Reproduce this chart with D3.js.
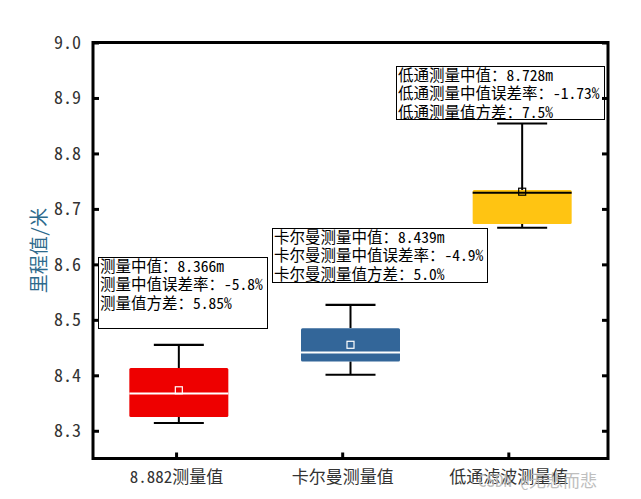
<!DOCTYPE html>
<html>
<head>
<meta charset="utf-8">
<script src="https://cdn.jsdelivr.net/npm/d3@7"></script>
<style>
  body { margin: 0; background: #fff; }
  text { font-family: "Noto Sans Mono CJK SC", "Noto Sans CJK SC", sans-serif; }
</style>
</head>
<body>
<div id="chart"></div>
<script>
const categories = ["8.882测量值", "卡尔曼测量值", "低通滤波测量值"];
const q1 = [8.325, 8.425, 8.673];
const q3 = [8.413, 8.485, 8.734];
const medians = [8.367, 8.441, 8.729];
const means = [8.373, 8.455, 8.731];
const whiskerLow = [8.314, 8.401, 8.666];
const whiskerHigh = [8.455, 8.527, 8.854];
const yTicks = [8.3, 8.4, 8.5, 8.6, 8.7, 8.8, 8.9, 9.0];
const notes = [
  ["测量中值：8.366m", "测量中值误差率：-5.8%", "测量值方差：5.85%"],
  ["卡尔曼测量中值：8.439m", "卡尔曼测量中值误差率：-4.9%", "卡尔曼测量值方差：5.0%"],
  ["低通测量中值：8.728m", "低通测量中值误差率：-1.73%", "低通测量值方差：7.5%"]
];

const boxColors = ["#ee0000", "#336699", "#ffc412"];
const medianColors = ["#ffffff", "#ffffff", "#000000"];
// note frames in px (left, top, width, height)
const noteFrames = [[98, 257, 169, 71], [272, 228, 215, 54], [396, 66, 208, 53]];

const width = 641, height = 499;
const plotLeft = 93, plotRight = 608, plotTop = 42.5, plotBottom = 458.5;

const svg = d3.select("#chart").append("svg")
  .attr("width", width)
  .attr("height", height);

const y = d3.scaleLinear().domain([8.25, 9.0]).range([plotBottom, plotTop]);
// boxes and tick marks don't line up in the original, so two scales
const xBox = d3.scaleLinear().domain([0.5, 3.5]).range([plotLeft, plotRight]);
const xTick = d3.scaleLinear().domain([0.5, 3.6]).range([plotLeft, plotRight]);

// boxes
const g = svg.append("g");
categories.forEach(function (c, i) {
  const cx = xBox(i + 1);
  const bw = 99, capW = 50;

  g.append("line")
    .attr("x1", cx).attr("x2", cx)
    .attr("y1", y(whiskerHigh[i])).attr("y2", y(q3[i]))
    .attr("stroke", "#000").attr("stroke-width", 2);
  g.append("line")
    .attr("x1", cx).attr("x2", cx)
    .attr("y1", y(q1[i])).attr("y2", y(whiskerLow[i]))
    .attr("stroke", "#000").attr("stroke-width", 2);
  [whiskerHigh[i], whiskerLow[i]].forEach(function (v) {
    g.append("line")
      .attr("x1", cx - capW / 2).attr("x2", cx + capW / 2)
      .attr("y1", y(v)).attr("y2", y(v))
      .attr("stroke", "#000").attr("stroke-width", 2.2);
  });

  g.append("rect")
    .attr("x", cx - bw / 2)
    .attr("y", y(q3[i]))
    .attr("width", bw)
    .attr("height", y(q1[i]) - y(q3[i]))
    .attr("rx", 1.5)
    .attr("fill", boxColors[i]);

  g.append("line")
    .attr("x1", cx - bw / 2).attr("x2", cx + bw / 2)
    .attr("y1", y(medians[i])).attr("y2", y(medians[i]))
    .attr("stroke", medianColors[i]).attr("stroke-width", 2);

  g.append("rect")
    .attr("x", cx - 3.5)
    .attr("y", y(means[i]) - 3.5)
    .attr("width", 7).attr("height", 7)
    .attr("fill", "none")
    .attr("stroke", medianColors[i])
    .attr("stroke-width", 1.2);
});

// annotation boxes
notes.forEach(function (lines, i) {
  const f = noteFrames[i];
  const ng = svg.append("g").attr("transform", `translate(${f[0]},${f[1]})`);
  ng.append("rect")
    .attr("x", 0.5).attr("y", 0.5)
    .attr("width", f[2]).attr("height", f[3])
    .attr("fill", "#fff")
    .attr("stroke", "#000").attr("stroke-width", 1);
  ng.selectAll("text")
    .data(lines)
    .enter()
    .append("text")
    .attr("x", 2)
    .attr("y", (d, j) => 15 + j * 18.4)
    .attr("font-size", "15.5px")
    .attr("fill", "#000")
    .text(d => d);
});

// axes, ticks pointing inward
const yAxisL = d3.axisLeft(y).tickValues(yTicks).tickSize(-6).tickPadding(12)
  .tickFormat(d3.format(".1f"));
const yAxisR = d3.axisRight(y).tickValues(yTicks).tickSize(-6).tickFormat("");
const xAxis = d3.axisBottom(xTick).tickValues([1, 2, 3]).tickSize(-6).tickPadding(12)
  .tickFormat((d, i) => categories[i]);

const gl = svg.append("g").attr("transform", `translate(${plotLeft},0)`).call(yAxisL);
const gr = svg.append("g").attr("transform", `translate(${plotRight},0)`).call(yAxisR);
const gb = svg.append("g").attr("transform", `translate(0,${plotBottom})`).call(xAxis);

[gl, gr, gb].forEach(function (a) {
  a.select(".domain").remove();
  a.selectAll(".tick line").attr("stroke", "#000").attr("stroke-width", 3);
});
gl.selectAll(".tick text")
  .attr("font-size", "18px")
  .attr("fill", "#333");
gb.selectAll(".tick text")
  .attr("font-size", "17px")
  .attr("fill", "#333");

svg.append("rect")
  .attr("x", plotLeft).attr("y", plotTop)
  .attr("width", plotRight - plotLeft).attr("height", plotBottom - plotTop)
  .attr("fill", "none")
  .attr("stroke", "#000")
  .attr("stroke-width", 3);

svg.append("text")
  .attr("transform", `translate(46,${(plotTop + plotBottom) / 2}) rotate(-90)`)
  .attr("text-anchor", "middle")
  .attr("font-size", "19px")
  .attr("fill", "#2e6a8c")
  .text("里程值/米");

// watermark
svg.append("text")
  .attr("x", 478).attr("y", 487)
  .attr("font-size", "17px")
  .attr("fill", "#b4b4b4")
  .attr("opacity", 0.85)
  .text("CSDN @无悲而悲");
</script>
</body>
</html>
